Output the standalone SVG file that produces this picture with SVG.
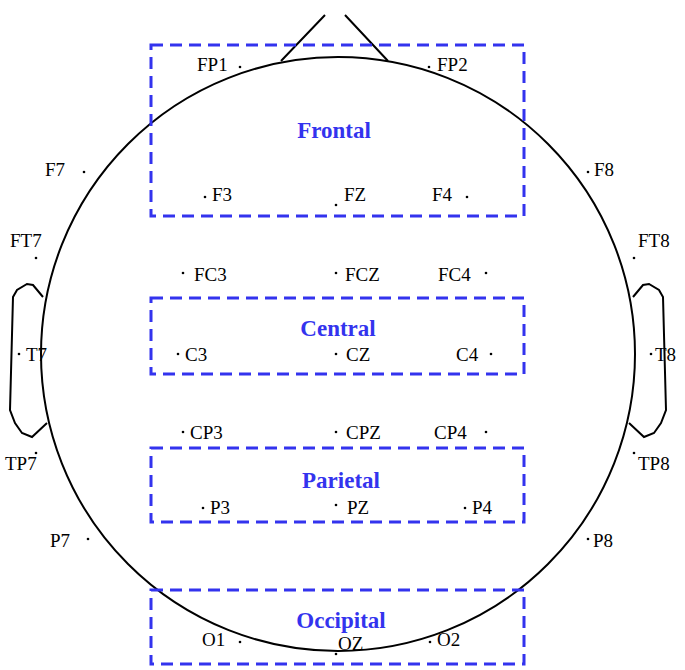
<svg xmlns="http://www.w3.org/2000/svg" width="685" height="670" viewBox="0 0 685 670">
<style>
.h{fill:none;stroke:#000;stroke-width:2}
.r{fill:none;stroke:#3333ee;stroke-width:3;stroke-dasharray:12 7}
.g{fill:#3333ee;font-family:"Liberation Serif",serif;font-weight:bold;font-size:23px;text-anchor:middle}
.e{font-family:"Liberation Serif",serif;font-size:19px;fill:#000}
.d{fill:#000}
</style>
<rect width="685" height="670" fill="#fff"/>
<g id="head">
<circle class="h" cx="338" cy="354" r="297"/>
<path class="h" d="M281,61 L325,15 M345,15 L388,61"/>
<polyline class="h" points="43,297 33,285 27,284 17,290 13,297 10,410 15,423 22,433 32,437 47,423"/>
<polyline class="h" points="633,297 643,285 649,284 659,290 663,297 666,410 661,423 654,433 644,437 629,423"/>
</g>
<g id="regions">
<g id="frontal"><rect class="r" x="151" y="45" width="373" height="171"/><text class="g" x="334" y="138">Frontal</text></g>
<g id="central"><rect class="r" x="151" y="298" width="373" height="76"/><text class="g" x="338" y="336">Central</text></g>
<g id="parietal"><rect class="r" x="151" y="448" width="373" height="74"/><text class="g" x="341" y="488">Parietal</text></g>
<g id="occipital"><rect class="r" x="151" y="590" width="373" height="74"/><text class="g" x="341" y="628">Occipital</text></g>
</g>
<g id="electrodes">
<g id="FP1"><text class="e" x="197" y="71">FP1</text><circle class="d" cx="240" cy="67" r="1.3"/></g>
<g id="FP2"><circle class="d" cx="429" cy="67" r="1.3"/><text class="e" x="437" y="71">FP2</text></g>
<g id="F7"><text class="e" x="45" y="176">F7</text><circle class="d" cx="84" cy="172" r="1.3"/></g>
<g id="F8"><circle class="d" cx="588" cy="172" r="1.3"/><text class="e" x="594" y="176">F8</text></g>
<g id="F3"><circle class="d" cx="205" cy="197" r="1.3"/><text class="e" x="212" y="201">F3</text></g>
<g id="FZ"><circle class="d" cx="336" cy="205" r="1.3"/><text class="e" x="344" y="201">FZ</text></g>
<g id="F4"><text class="e" x="432" y="201">F4</text><circle class="d" cx="467" cy="197" r="1.3"/></g>
<g id="FT7"><text class="e" x="10" y="247">FT7</text><circle class="d" cx="36" cy="258" r="1.3"/></g>
<g id="FT8"><text class="e" x="638" y="247">FT8</text><circle class="d" cx="634" cy="258" r="1.3"/></g>
<g id="FC3"><circle class="d" cx="183" cy="273" r="1.3"/><text class="e" x="194" y="281">FC3</text></g>
<g id="FCZ"><circle class="d" cx="336" cy="273" r="1.3"/><text class="e" x="345" y="281">FCZ</text></g>
<g id="FC4"><text class="e" x="438" y="281">FC4</text><circle class="d" cx="486" cy="273" r="1.3"/></g>
<g id="T7"><circle class="d" cx="19" cy="354" r="1.3"/><text class="e" x="26" y="361">T7</text></g>
<g id="T8"><circle class="d" cx="651" cy="354" r="1.3"/><text class="e" x="655" y="361">T8</text></g>
<g id="C3"><circle class="d" cx="178" cy="354" r="1.3"/><text class="e" x="185" y="361">C3</text></g>
<g id="CZ"><circle class="d" cx="336" cy="354" r="1.3"/><text class="e" x="346" y="361">CZ</text></g>
<g id="C4"><text class="e" x="456" y="361">C4</text><circle class="d" cx="491" cy="354" r="1.3"/></g>
<g id="CP3"><circle class="d" cx="183" cy="432" r="1.3"/><text class="e" x="190" y="439">CP3</text></g>
<g id="CPZ"><circle class="d" cx="336" cy="432" r="1.3"/><text class="e" x="346" y="439">CPZ</text></g>
<g id="CP4"><text class="e" x="434" y="439">CP4</text><circle class="d" cx="486" cy="432" r="1.3"/></g>
<g id="TP7"><circle class="d" cx="36" cy="453" r="1.3"/><text class="e" x="5" y="470">TP7</text></g>
<g id="TP8"><circle class="d" cx="634" cy="453" r="1.3"/><text class="e" x="638" y="470">TP8</text></g>
<g id="P3"><circle class="d" cx="203" cy="508" r="1.3"/><text class="e" x="210" y="514">P3</text></g>
<g id="PZ"><circle class="d" cx="336" cy="505" r="1.3"/><text class="e" x="347" y="514">PZ</text></g>
<g id="P4"><circle class="d" cx="465" cy="508" r="1.3"/><text class="e" x="472" y="514">P4</text></g>
<g id="P7"><text class="e" x="50" y="547">P7</text><circle class="d" cx="88" cy="539" r="1.3"/></g>
<g id="P8"><circle class="d" cx="588" cy="539" r="1.3"/><text class="e" x="593" y="547">P8</text></g>
<g id="O1"><text class="e" x="202" y="646">O1</text><circle class="d" cx="240" cy="642" r="1.3"/></g>
<g id="OZ"><circle class="d" cx="336" cy="654" r="1.3"/><text class="e" x="338" y="650">OZ</text></g>
<g id="O2"><circle class="d" cx="430" cy="642" r="1.3"/><text class="e" x="437" y="646">O2</text></g>
</g>
<g id="connectors"/>
</svg>
